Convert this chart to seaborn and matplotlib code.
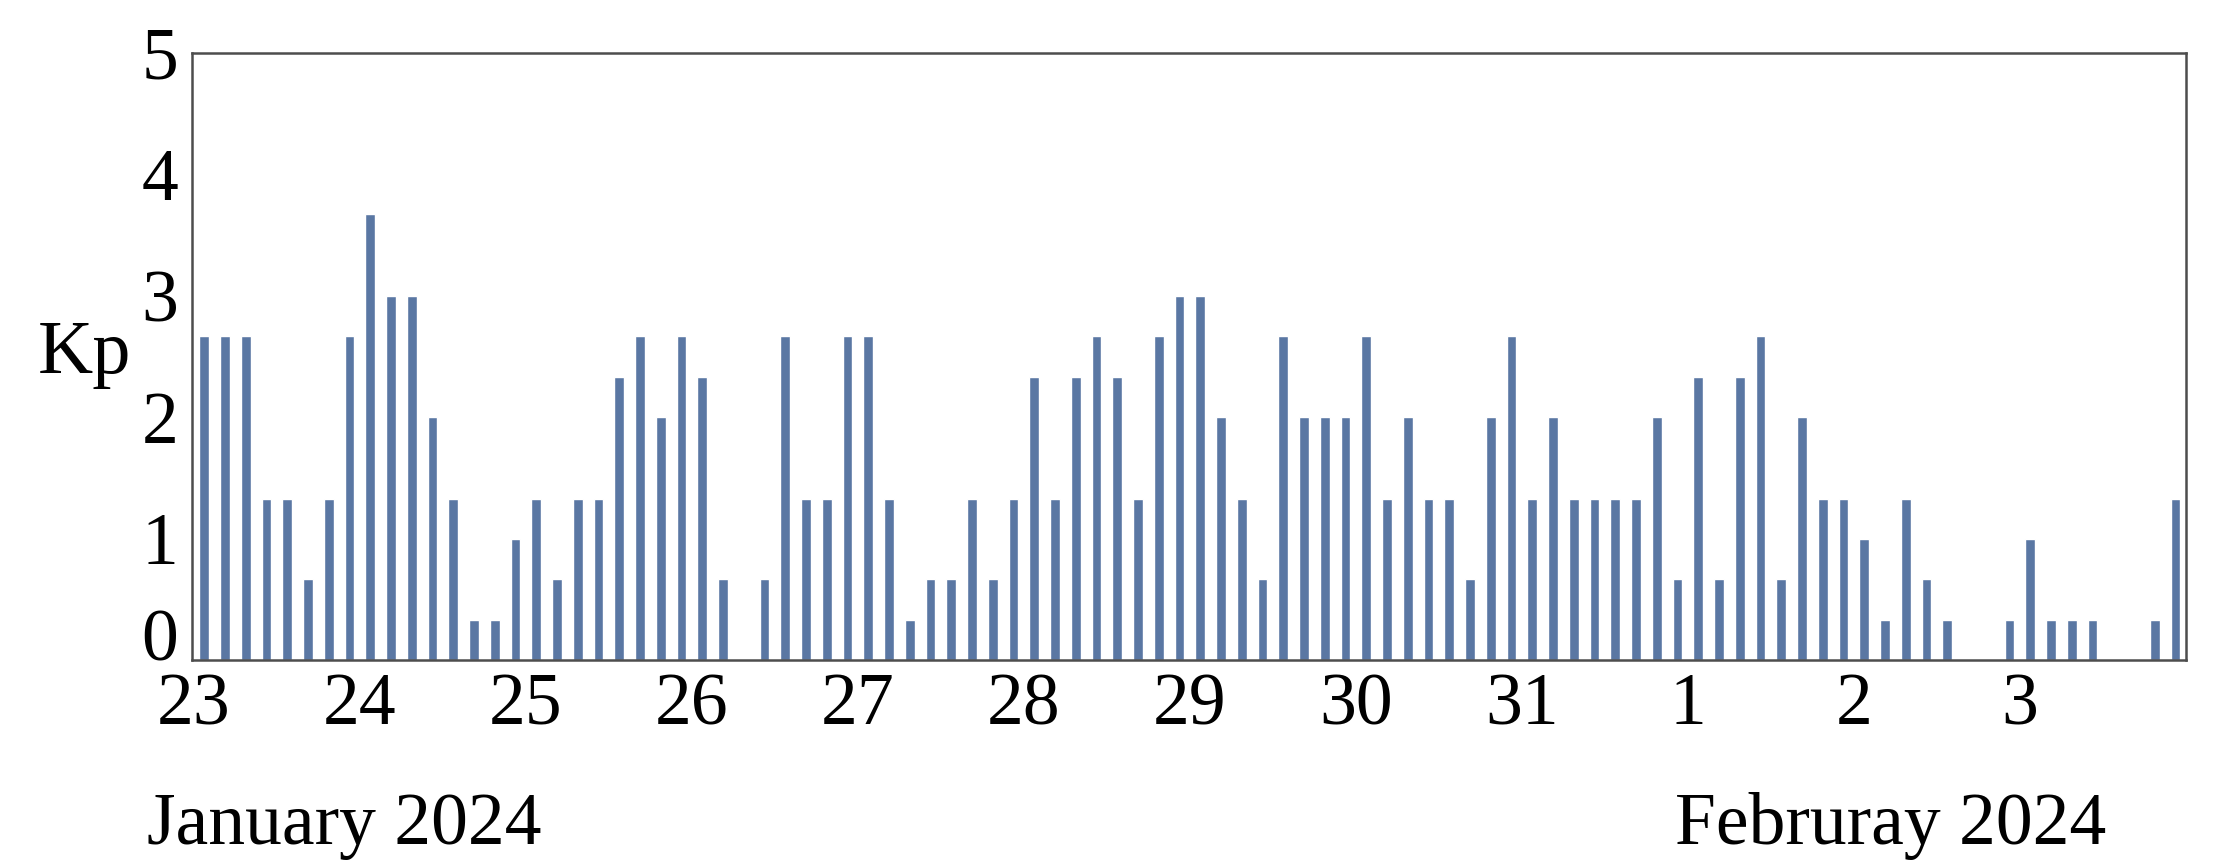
"""Kp index bar chart, 23 January - 3 February 2024"""

import matplotlib
matplotlib.use("Agg")
import matplotlib.pyplot as plt
import seaborn as sns
import numpy as np
import pandas as pd

# 3-hourly Kp values, 8 per day
kp_jan23 = [2.67, 2.67, 2.67, 1.33, 1.33, 0.67, 1.33, 2.67]
kp_jan24 = [3.67, 3.0, 3.0, 2.0, 1.33, 0.33, 0.33, 1.0]
kp_jan25 = [1.33, 0.67, 1.33, 1.33, 2.33, 2.67, 2.0, 2.67]
kp_jan26 = [2.33, 0.67, 0.0, 0.67, 2.67, 1.33, 1.33, 2.67]
kp_jan27 = [2.67, 1.33, 0.33, 0.67, 0.67, 1.33, 0.67, 1.33]
kp_jan28 = [2.33, 1.33, 2.33, 2.67, 2.33, 1.33, 2.67, 3.0]
kp_jan29 = [3.0, 2.0, 1.33, 0.67, 2.67, 2.0, 2.0, 2.0]
kp_jan30 = [2.67, 1.33, 2.0, 1.33, 1.33, 0.67, 2.0, 2.67]
kp_jan31 = [1.33, 2.0, 1.33, 1.33, 1.33, 1.33, 2.0, 0.67]
kp_feb01 = [2.33, 0.67, 2.33, 2.67, 0.67, 2.0, 1.33, 1.33]
kp_feb02 = [1.0, 0.33, 1.33, 0.67, 0.33, 0.0, 0.0, 0.33]
kp_feb03 = [1.0, 0.33, 0.33, 0.33, 0.0, 0.0, 0.33, 1.33]

day_labels = ["23", "24", "25", "26", "27", "28", "29", "30", "31", "1", "2", "3"]
y_ticks = [0, 1, 2, 3, 4, 5]

kp = (kp_jan23 + kp_jan24 + kp_jan25 + kp_jan26 + kp_jan27 + kp_jan28
      + kp_jan29 + kp_jan30 + kp_jan31 + kp_feb01 + kp_feb02 + kp_feb03)

# bar i covers the i-th 3-hour interval, centred in it
df = pd.DataFrame({"slot": np.arange(len(kp)) + 0.5, "kp": kp})

sns.set_theme(style="white")
plt.rcParams["font.family"] = ["Liberation Serif", "DejaVu Serif"]
plt.rcParams["text.color"] = "black"

fs = 53

fig = plt.figure(figsize=(22.31, 8.68), dpi=100)
ax = fig.add_axes([0.0861, 0.2396, 0.8937, 0.6993])

sns.barplot(data=df, x="slot", y="kp", native_scale=True, width=0.47,
            color="#5a77a3", saturation=1, errorbar=None, ax=ax)

ax.set_xlim(-0.08, 96)
ax.set_ylim(0, 5)
ax.set_xticks(np.arange(len(day_labels)) * 8)
ax.set_xticklabels(day_labels)
ax.set_yticks(y_ticks)
ax.set_xlabel("")
ax.set_ylabel("")

ax.tick_params(axis="both", direction="in", length=8, width=1.5,
               color="#333333", labelsize=fs, labelcolor="black")
ax.tick_params(axis="x", pad=9)
ax.tick_params(axis="y", pad=10)
# the "0" sits on the axis line, clear of the "23"
ax.get_yticklabels()[0].set_verticalalignment("baseline")
for spine in ax.spines.values():
    spine.set_visible(True)
    spine.set_color("#4d4d4d")
    spine.set_linewidth(1.8)

ax.text(-0.054, 0.473, "Kp", transform=ax.transAxes, fontsize=55,
        color="black", ha="center", va="baseline")
fig.text(0.066, 0.028, "January 2024", fontsize=fs, color="black",
         ha="left", va="baseline")
fig.text(0.751, 0.028, "Februray 2024", fontsize=fs, color="black",
         ha="left", va="baseline")

fig.savefig("out.png", dpi=100)
